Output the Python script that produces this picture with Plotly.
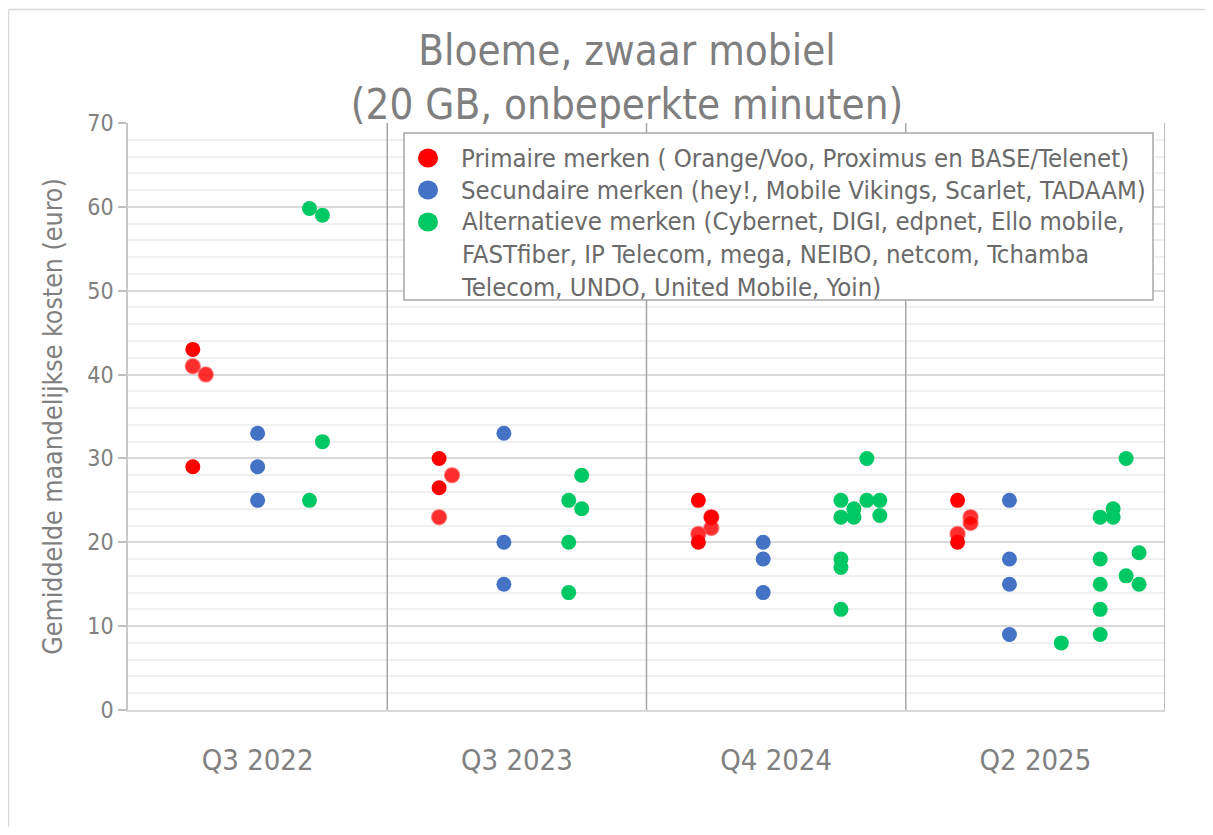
import plotly.graph_objects as go

# ---- data ----
categories = ["Q3 2022", "Q3 2023", "Q4 2024", "Q2 2025"]
category_pos = [0.5, 1.5, 2.5, 3.5]
boundaries = [1, 2, 3, 4]

prim_x = [0.25, 0.25, 1.20, 1.20, 2.20, 2.25, 2.20, 3.20, 3.20]
prim_y = [43, 29, 30, 26.5, 25, 23, 20, 25, 20]
prim_faded_x = [0.25, 0.30, 1.25, 1.20, 2.25, 2.25, 2.20, 3.25, 3.25, 3.20]
prim_faded_y = [41, 40, 28, 23, 23, 21.7, 21, 23, 22.3, 21]

sec_x = [0.50, 0.50, 0.50, 1.45, 1.45, 1.45, 2.45, 2.45, 2.45, 3.40, 3.40, 3.40, 3.40]
sec_y = [33, 29, 25, 33, 20, 15, 20, 18, 14, 25, 18, 15, 9]

alt_x = [0.70, 0.75, 0.75, 0.70,
         1.75, 1.70, 1.75, 1.70, 1.70,
         2.85, 2.75, 2.80, 2.85, 2.90, 2.75, 2.80, 2.90, 2.75, 2.75, 2.75,
         3.60, 3.85, 3.80, 3.75, 3.80, 3.90, 3.75, 3.85, 3.75, 3.90, 3.75, 3.75]
alt_y = [59.8, 59, 32, 25,
         28, 25, 24, 20, 14,
         30, 25, 24, 25, 25, 23, 23, 23.2, 18, 17, 12,
         8, 30, 24, 23, 23, 18.75, 18, 16, 15, 15, 12, 9]

names = [
    "Primaire merken ( Orange/Voo, Proximus en BASE/Telenet)",
    "Secundaire merken (hey!, Mobile Vikings, Scarlet, TADAAM)",
    "Alternatieve merken (Cybernet, DIGI, edpnet, Ello mobile,<br>FASTfiber, IP Telecom, mega, NEIBO, netcom, Tchamba<br>Telecom, UNDO, United Mobile, Yoin)",
]

FONT = "DejaVu Sans Condensed, Liberation Sans, Arial, sans-serif"
RED, BLUE, GREEN = "#ff0000", "#4472c4", "#00c864"
colors = [RED, BLUE, GREEN]
MS = 15

# page offset (browser body margin) compensation, in px
OFF = 8
W, H = 1213 - 2 * OFF, 835 - 2 * OFF
PL, PR, PT, PB = 128, 1165, 123, 710  # plot area in screen px


def px_x(X):
    return (X - PL) / (PR - PL)


def px_y(Y):
    return (PB - Y) / (PB - PT)


fig = go.Figure()
fig.add_trace(go.Scatter(x=prim_faded_x, y=prim_faded_y, mode="markers", showlegend=False,
                         marker=dict(size=MS, color="rgba(255,0,0,0.82)",
                                     line=dict(width=1.5, color="rgba(255,90,90,0.6)")),
                         hoverinfo="skip"))
fig.add_trace(go.Scatter(x=prim_x, y=prim_y, mode="markers", name=names[0], showlegend=False,
                         marker=dict(size=MS, color=RED)))
fig.add_trace(go.Scatter(x=sec_x, y=sec_y, mode="markers", name=names[1], showlegend=False,
                         marker=dict(size=MS, color=BLUE)))
fig.add_trace(go.Scatter(x=alt_x, y=alt_y, mode="markers", name=names[2], showlegend=False,
                         marker=dict(size=MS, color=GREEN)))

fig.update_layout(
    width=W, height=H,
    margin=dict(l=PL - OFF, r=W - (PR - OFF), t=PT - OFF, b=H - (PB - OFF)),
    paper_bgcolor="white", plot_bgcolor="white",
    font=dict(family=FONT, color="#808080"),
    title=dict(text="Bloeme, zwaar mobiel<br>(20 GB, onbeperkte minuten)",
               x=(627 - OFF) / W, xanchor="center", xref="container",
               y=1 - 57 / H, yanchor="top", yref="container",
               font=dict(size=41.8, color="#7f7f7f", family=FONT)),
    showlegend=False,
)

fig.update_xaxes(
    range=[0, 4], tickvals=category_pos, ticktext=categories,
    showgrid=False, zeroline=False, ticks="",
    tickfont=dict(size=29, color="#808080"),
    ticklabelstandoff=23, automargin=False,
    showline=True, linecolor="#d9d9d9", linewidth=1.5,
)
fig.update_yaxes(
    range=[0, 70], dtick=10, tick0=0, automargin=False,
    showgrid=True, gridcolor="#d9d9d9", gridwidth=1.5, zeroline=False,
    ticks="outside", ticklen=8, tickcolor="#bfbfbf", tickwidth=1.5,
    tickfont=dict(size=23, color="#808080"),
    showline=True, linecolor="#c8c8c8", linewidth=1.5,
    minor=dict(dtick=2, showgrid=True, gridcolor="#f0f0f0", gridwidth=1.5),
    title=dict(text="Gemiddelde maandelijkse kosten (euro)",
               font=dict(size=26.5, color="#808080", family=FONT), standoff=17),
)

# category separators
for b in boundaries:
    fig.add_shape(type="line", xref="x", yref="paper", x0=b, x1=b, y0=0, y1=1,
                  line=dict(color="#a6a6a6", width=1.5), layer="above")

# outer chart frame (left and top edges; the rest is cropped in the reference)
fig.add_shape(type="line", xref="paper", yref="paper",
              x0=px_x(8.5), x1=px_x(8.5), y0=-0.5, y1=px_y(9.5),
              line=dict(color="#d9d9d9", width=1.5), layer="below")
fig.add_shape(type="line", xref="paper", yref="paper",
              x0=px_x(8.5), x1=1.3, y0=px_y(9.5), y1=px_y(9.5),
              line=dict(color="#d9d9d9", width=1.5), layer="below")

# legend box (drawn manually for exact Excel-like spacing)
fig.add_shape(type="rect", xref="paper", yref="paper",
              x0=px_x(404), x1=px_x(1153), y0=px_y(300), y1=px_y(133),
              line=dict(color="#a6a6a6", width=1.5), fillcolor="white", layer="above")
legend_rows = [158, 190, 254]
symbol_rows = [158, 190, 222]
for name, col, ty, sy in zip(names, colors, legend_rows, symbol_rows):
    fig.add_shape(type="circle", xref="paper", yref="paper",
                  xsizemode="pixel", ysizemode="pixel",
                  xanchor=px_x(428), yanchor=px_y(sy),
                  x0=-10, x1=10, y0=-9.5, y1=9.5,
                  line=dict(width=0), fillcolor=col, layer="above")
    fig.add_annotation(xref="paper", yref="paper", x=px_x(459), y=px_y(ty),
                       xanchor="left", yanchor="middle", align="left",
                       text=name, showarrow=False,
                       font=dict(size=25.5, color="#6a6a6a", family=FONT))

fig.write_html("out.html")
